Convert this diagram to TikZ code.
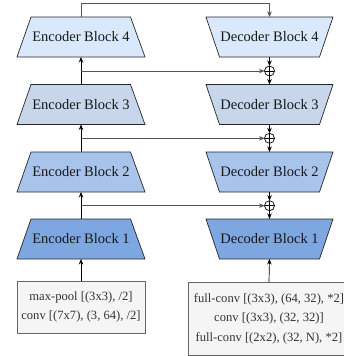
\documentclass[tikz,border=0pt]{standalone}
\usepackage{fontspec}
\setmainfont{Liberation Serif}
\usetikzlibrary{arrows.meta,calc}
\pgfdeclarelayer{background}
\pgfsetlayers{background,main}
\definecolor{cfour}{HTML}{DAE8FC}
\definecolor{cthree}{HTML}{C8D6EB}
\definecolor{ctwo}{HTML}{A9C4EB}
\definecolor{cone}{HTML}{7EA6E0}
\definecolor{boxfill}{HTML}{F5F5F5}
\definecolor{boxline}{HTML}{666666}
\definecolor{boxtext}{HTML}{333333}
\definecolor{linkgray}{HTML}{555555}
\newcommand{\enctrap}[2]{\begin{pgfonlayer}{background}
  \draw[trapline, fill=#2] (#1.south west) -- ([xshift=14pt]#1.north west)
    -- ([xshift=-14.5pt]#1.north east) -- (#1.south east) -- cycle;
  \end{pgfonlayer}}
\newcommand{\dectrap}[2]{\begin{pgfonlayer}{background}
  \draw[trapline, fill=#2] (#1.north west) -- (#1.north east)
    -- ([xshift=-13.5pt]#1.south east) -- ([xshift=13.5pt]#1.south west) -- cycle;
  \end{pgfonlayer}}
\begin{document}
\begin{tikzpicture}[x=1pt,y=-1pt,
  trapline/.style={draw=black!85, line width=0.7pt, line join=miter},
  blocktext/.style={rectangle, minimum height=40pt, inner sep=0pt, outer sep=0pt,
    font=\fontsize{14.5}{17}\selectfont, text=black!90},
  encblock/.style={blocktext, minimum width=128pt},
  decblock/.style={blocktext, minimum width=127pt},
  plusnode/.style={circle, draw=black, line width=0.7pt, minimum size=10pt, inner sep=0pt, outer sep=0pt,
    path picture={\draw[line width=0.7pt] (path picture bounding box.north) -- (path picture bounding box.south)
      (path picture bounding box.west) -- (path picture bounding box.east);}},
  infobox/.style={rectangle, draw=boxline, fill=boxfill, line width=0.7pt, text=boxtext,
    align=center, inner sep=0pt, outer sep=0pt, font=\fontsize{12.6}{19.5}\selectfont},
  arr/.style={-{Stealth[length=5.5pt,width=4.5pt]}, line width=0.7pt, draw=black},
  graylink/.style={-{Stealth[length=5.5pt,width=4.5pt]}, line width=0.7pt, draw=linkgray}
]
\useasboundingbox (0,0) rectangle (344,356);
\clip (0,0) rectangle (344,356);

% encoder column
\node[encblock] (e4) at (81,37)    {Encoder Block 4};
\node[encblock] (e3) at (81,104.5) {Encoder Block 3};
\node[encblock] (e2) at (81,172)   {Encoder Block 2};
\node[encblock] (e1) at (81,239)   {Encoder Block 1};
\enctrap{e4}{cfour}\enctrap{e3}{cthree}\enctrap{e2}{ctwo}\enctrap{e1}{cone}

% decoder column
\node[decblock] (d4) at (269.5,37)    {Decoder Block 4};
\node[decblock] (d3) at (269.5,104.5) {Decoder Block 3};
\node[decblock] (d2) at (269.5,172)   {Decoder Block 2};
\node[decblock] (d1) at (269.5,239)   {Decoder Block 1};
\dectrap{d4}{cfour}\dectrap{d3}{cthree}\dectrap{d2}{ctwo}\dectrap{d1}{cone}

% sum nodes
\node[plusnode] (p3) at (269.5,71)    {};
\node[plusnode] (p2) at (269.5,138.3) {};
\node[plusnode] (p1) at (269.5,205.7) {};

% input / output boxes
\node[infobox, minimum width=128pt, minimum height=52pt] (ebox) at (81,307)
  {max-pool [(3x3), /2]\\conv [(7x7), (3, 64), /2]};
\node[infobox, minimum width=162pt, minimum height=73pt] (dbox) at (269,318.5)
  {full-conv [(3x3), (64, 32), *2]\\conv [(3x3), (32, 32)]\\full-conv [(2x2), (32, N), *2]};

% encoder arrows
\draw[arr] (ebox.north) -- (e1.south);
\draw[arr] (e1.north) -- (e2.south);
\draw[arr] (e2.north) -- (e3.south);
\draw[arr] (e3.north) -- (e4.south);

% skip connections
\coordinate (s1) at (e1.north |- p1);
\coordinate (s2) at (e2.north |- p2);
\coordinate (s3) at (e3.north |- p3);
\draw[graylink] (s1) -- (p1.west);
\draw[graylink] (s2) -- (p2.west);
\draw[graylink] (s3) -- (p3.west);

% top link
\coordinate (tl) at ($(e4.north)+(0,-14)$);
\draw[graylink] (e4.north) -- (tl) -| (d4.north);

% decoder arrows
\draw[arr] (d4.south) -- (p3.north);
\draw[arr] (p3.south) -- (d3.north);
\draw[arr] (d3.south) -- (p2.north);
\draw[arr] (p2.south) -- (d2.north);
\draw[arr] (d2.south) -- (p1.north);
\draw[arr] (p1.south) -- (d1.north);
\draw[arr] (dbox.north) -- (d1.south);
\end{tikzpicture}
\end{document}
